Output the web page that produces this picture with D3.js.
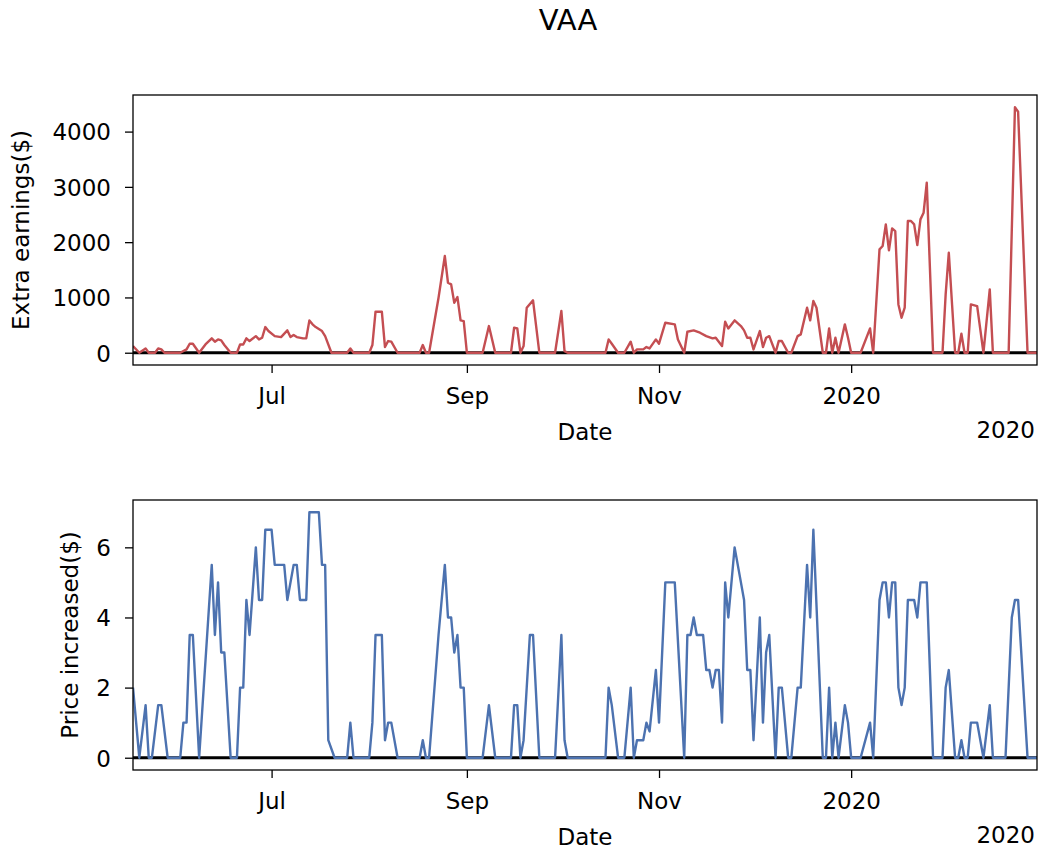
<!DOCTYPE html>
<html><head><meta charset="utf-8">
<script src="https://cdn.jsdelivr.net/npm/d3@7"></script>
<style>
body{margin:0;background:#fff}
svg{display:block}
text{font-family:"DejaVu Sans",sans-serif;fill:#000}
</style>
</head><body><svg id="c" width="1039" height="851"></svg>
<script>
const chartTitle = "VAA";
const xLabel = "Date";
const offsetLabel = "2020";
const xDomainDates = ["2019-05-18", "2020-02-29"];
const xTickDates = ["2019-07-01", "2019-09-01", "2019-11-01", "2020-01-01"];
const xTickLabels = ["Jul", "Sep", "Nov", "2020"];
const earningsTicks = [0, 1000, 2000, 3000, 4000];
const priceTicks = [0, 2, 4, 6];
const earningsLabel = "Extra earnings($)";
const priceLabel = "Price increased($)";

const earningsDates = ["2019-05-18","2019-05-20","2019-05-22","2019-05-23","2019-05-25","2019-05-26","2019-05-27","2019-05-28","2019-06-02","2019-06-04","2019-06-05","2019-06-06","2019-06-08","2019-06-10","2019-06-12","2019-06-13","2019-06-14","2019-06-15","2019-06-16","2019-06-18","2019-06-20","2019-06-21","2019-06-22","2019-06-23","2019-06-24","2019-06-26","2019-06-27","2019-06-28","2019-06-29","2019-06-30","2019-07-02","2019-07-04","2019-07-06","2019-07-07","2019-07-08","2019-07-09","2019-07-11","2019-07-12","2019-07-13","2019-07-14","2019-07-15","2019-07-17","2019-07-18","2019-07-20","2019-07-25","2019-07-26","2019-07-27","2019-08-01","2019-08-02","2019-08-03","2019-08-05","2019-08-06","2019-08-07","2019-08-08","2019-08-10","2019-08-17","2019-08-18","2019-08-19","2019-08-20","2019-08-23","2019-08-25","2019-08-26","2019-08-27","2019-08-28","2019-08-29","2019-08-30","2019-08-31","2019-09-01","2019-09-06","2019-09-08","2019-09-10","2019-09-15","2019-09-16","2019-09-17","2019-09-18","2019-09-19","2019-09-20","2019-09-22","2019-09-24","2019-09-29","2019-10-01","2019-10-02","2019-10-03","2019-10-15","2019-10-16","2019-10-17","2019-10-19","2019-10-21","2019-10-23","2019-10-24","2019-10-25","2019-10-27","2019-10-28","2019-10-29","2019-10-31","2019-11-01","2019-11-03","2019-11-06","2019-11-07","2019-11-09","2019-11-10","2019-11-12","2019-11-14","2019-11-16","2019-11-18","2019-11-19","2019-11-21","2019-11-22","2019-11-23","2019-11-25","2019-11-27","2019-11-28","2019-11-29","2019-11-30","2019-12-01","2019-12-03","2019-12-04","2019-12-05","2019-12-06","2019-12-08","2019-12-09","2019-12-10","2019-12-12","2019-12-13","2019-12-15","2019-12-16","2019-12-18","2019-12-19","2019-12-20","2019-12-21","2019-12-23","2019-12-24","2019-12-25","2019-12-26","2019-12-27","2019-12-28","2019-12-30","2019-12-31","2020-01-01","2020-01-04","2020-01-07","2020-01-08","2020-01-10","2020-01-11","2020-01-12","2020-01-13","2020-01-14","2020-01-15","2020-01-16","2020-01-17","2020-01-18","2020-01-19","2020-01-20","2020-01-21","2020-01-22","2020-01-23","2020-01-24","2020-01-25","2020-01-27","2020-01-30","2020-01-31","2020-02-01","2020-02-03","2020-02-04","2020-02-05","2020-02-06","2020-02-07","2020-02-08","2020-02-10","2020-02-12","2020-02-14","2020-02-15","2020-02-20","2020-02-22","2020-02-23","2020-02-26","2020-02-29"];
const earningsValues = [120,0,78,0,0,78,60,0,0,60,163,163,0,150,260,200,240,223,139,0,0,150,150,260,211,300,241,271,464,392,300,283,404,283,320,283,260,260,585,513,464,392,300,0,0,78,0,0,139,742,742,103,211,200,0,0,139,0,0,995,1749,1266,1236,905,1007,585,573,0,0,482,0,0,452,440,0,120,814,947,0,0,754,30,0,0,241,163,0,0,200,0,60,60,103,78,241,163,543,513,241,0,380,404,362,301,260,271,120,561,440,585,482,404,271,271,60,392,103,271,300,0,211,211,0,0,300,332,814,585,935,814,0,0,440,0,271,0,513,271,0,0,440,0,1869,1930,2322,1851,2249,2201,874,633,814,2382,2382,2322,1948,2412,2533,3075,0,0,1055,1809,0,0,344,0,0,874,844,0,1146,0,0,4440,4360,0,0];

const priceDates = ["2019-05-18","2019-05-20","2019-05-22","2019-05-23","2019-05-24","2019-05-26","2019-05-27","2019-05-29","2019-06-02","2019-06-03","2019-06-04","2019-06-05","2019-06-06","2019-06-08","2019-06-12","2019-06-13","2019-06-14","2019-06-15","2019-06-16","2019-06-18","2019-06-20","2019-06-21","2019-06-22","2019-06-23","2019-06-24","2019-06-26","2019-06-27","2019-06-28","2019-06-29","2019-07-01","2019-07-02","2019-07-05","2019-07-06","2019-07-08","2019-07-09","2019-07-10","2019-07-12","2019-07-13","2019-07-16","2019-07-17","2019-07-18","2019-07-19","2019-07-21","2019-07-25","2019-07-26","2019-07-27","2019-08-01","2019-08-02","2019-08-03","2019-08-05","2019-08-06","2019-08-07","2019-08-08","2019-08-10","2019-08-17","2019-08-18","2019-08-19","2019-08-20","2019-08-23","2019-08-25","2019-08-26","2019-08-27","2019-08-28","2019-08-29","2019-08-30","2019-08-31","2019-09-01","2019-09-06","2019-09-08","2019-09-10","2019-09-15","2019-09-16","2019-09-17","2019-09-18","2019-09-19","2019-09-21","2019-09-22","2019-09-24","2019-09-29","2019-10-01","2019-10-02","2019-10-03","2019-10-15","2019-10-16","2019-10-17","2019-10-19","2019-10-21","2019-10-23","2019-10-24","2019-10-25","2019-10-27","2019-10-28","2019-10-29","2019-10-31","2019-11-01","2019-11-03","2019-11-06","2019-11-09","2019-11-10","2019-11-11","2019-11-12","2019-11-13","2019-11-15","2019-11-16","2019-11-17","2019-11-18","2019-11-19","2019-11-20","2019-11-21","2019-11-22","2019-11-23","2019-11-25","2019-11-27","2019-11-28","2019-11-29","2019-11-30","2019-12-01","2019-12-03","2019-12-04","2019-12-05","2019-12-06","2019-12-08","2019-12-09","2019-12-10","2019-12-12","2019-12-13","2019-12-15","2019-12-16","2019-12-18","2019-12-19","2019-12-20","2019-12-23","2019-12-24","2019-12-25","2019-12-26","2019-12-27","2019-12-28","2019-12-30","2019-12-31","2020-01-01","2020-01-04","2020-01-07","2020-01-08","2020-01-10","2020-01-11","2020-01-12","2020-01-13","2020-01-14","2020-01-15","2020-01-16","2020-01-17","2020-01-18","2020-01-19","2020-01-21","2020-01-22","2020-01-23","2020-01-25","2020-01-27","2020-01-30","2020-01-31","2020-02-01","2020-02-03","2020-02-04","2020-02-05","2020-02-06","2020-02-07","2020-02-08","2020-02-10","2020-02-12","2020-02-14","2020-02-15","2020-02-19","2020-02-21","2020-02-22","2020-02-23","2020-02-26","2020-02-29"];
const priceValues = [2.0,0,1.5,0,0,1.5,1.5,0,0,1.0,1.0,3.5,3.5,0,5.5,3.5,5.0,3.0,3.0,0,0,2.0,2.0,4.5,3.5,6.0,4.5,4.5,6.5,6.5,5.5,5.5,4.5,5.5,5.5,4.5,4.5,7.0,7.0,5.5,5.5,0.5,0,0,1.0,0,0,1.0,3.5,3.5,0.5,1.0,1.0,0,0,0.5,0,0,3.5,5.5,4.0,4.0,3.0,3.5,2.0,2.0,0,0,1.5,0,0,1.5,1.5,0,0.5,3.5,3.5,0,0,3.5,0.5,0,0,2.0,1.5,0,0,2.0,0,0.5,0.5,1.0,0.75,2.5,1.0,5.0,5.0,0,3.5,3.5,4.0,3.5,3.5,2.5,2.5,2.0,2.5,2.5,1.0,5.0,4.0,6.0,5.0,4.5,2.5,2.5,0.5,4.0,1.0,3.0,3.5,0,2.0,2.0,0,0,2.0,2.0,5.5,4.0,6.5,0,0,2.0,0,1.0,0,1.5,1.0,0,0,1.0,0,4.5,5.0,5.0,4.0,5.0,5.0,2.0,1.5,2.0,4.5,4.5,4.0,5.0,5.0,0,0,2.0,2.5,0,0,0.5,0,0,1.0,1.0,0,1.5,0,0,4.0,4.5,4.5,0,0];

const parse = d3.utcParse("%Y-%m-%d");
const svg = d3.select("#c");
const W = 1039;
const left = 133, right = 1037;
const fs = 23;

const x = d3.scaleUtc().domain(xDomainDates.map(parse)).range([left, right]);

svg.append("text").attr("x", 568).attr("y", 30).attr("text-anchor", "middle")
  .style("font-size", "29px").text(chartTitle);

const panels = [
  {top: 95, bottom: 365, dates: earningsDates, values: earningsValues, ticks: earningsTicks,
   color: "#c44e52", label: earningsLabel, labelX: 29},
  {top: 500, bottom: 770, dates: priceDates, values: priceValues, ticks: priceTicks,
   color: "#4c72b0", label: priceLabel, labelX: 78}
];

panels.forEach((p, pi) => {
  const data = p.dates.map((d, i) => ({date: parse(d), value: p.values[i]}));
  const [mn, mx] = d3.extent(p.values);
  const pad = (mx - mn) * 0.05;
  const y = d3.scaleLinear().domain([mn - pad, mx + pad]).range([p.bottom, p.top]);

  const clipId = "clip" + pi;
  svg.append("clipPath").attr("id", clipId).append("rect")
    .attr("x", left).attr("y", p.top).attr("width", right - left).attr("height", p.bottom - p.top);

  const g = svg.append("g").attr("clip-path", `url(#${clipId})`);
  g.append("line").attr("x1", left).attr("x2", right).attr("y1", y(0)).attr("y2", y(0))
    .attr("stroke", "#000").attr("stroke-width", 2.8);
  g.append("path").datum(data)
    .attr("d", d3.line().x(d => x(d.date)).y(d => y(d.value)))
    .attr("fill", "none").attr("stroke", p.color).attr("stroke-width", 2.4)
    .attr("stroke-linejoin", "round");

  // x axis
  const xa = svg.append("g").attr("transform", `translate(0,${p.bottom})`)
    .call(d3.axisBottom(x).tickValues(xTickDates.map(parse))
      .tickFormat((d, i) => xTickLabels[i]).tickSize(8).tickSizeOuter(0).tickPadding(15));
  xa.select(".domain").remove();
  xa.selectAll(".tick line").attr("stroke", "#000").attr("stroke-width", 1.3);
  xa.selectAll(".tick text").style("font-size", fs + "px").attr("font-family", null)
    .attr("fill", "#000");

  // y axis
  const ya = svg.append("g").attr("transform", `translate(${left},0)`)
    .call(d3.axisLeft(y).tickValues(p.ticks).tickFormat(d3.format("d")).tickSize(8).tickSizeOuter(0).tickPadding(14));
  ya.select(".domain").remove();
  ya.selectAll(".tick line").attr("stroke", "#000").attr("stroke-width", 1.3);
  ya.selectAll(".tick text").style("font-size", fs + "px").attr("dy", "0.36em").attr("fill", "#000");

  // spines
  svg.append("rect").attr("x", left).attr("y", p.top).attr("width", right - left)
    .attr("height", p.bottom - p.top).attr("fill", "none").attr("stroke", "#000").attr("stroke-width", 1.3);

  svg.append("text").attr("x", (left + right) / 2).attr("y", p.bottom + 75)
    .attr("text-anchor", "middle").style("font-size", fs + "px").text(xLabel);
  svg.append("text").attr("x", 1035).attr("y", p.bottom + 73)
    .attr("text-anchor", "end").style("font-size", fs + "px").text(offsetLabel);

  svg.append("text").attr("transform", `translate(${p.labelX},${(p.top + p.bottom) / 2}) rotate(-90)`)
    .attr("text-anchor", "middle").style("font-size", fs + "px").text(p.label);
});
</script>
</body></html>
